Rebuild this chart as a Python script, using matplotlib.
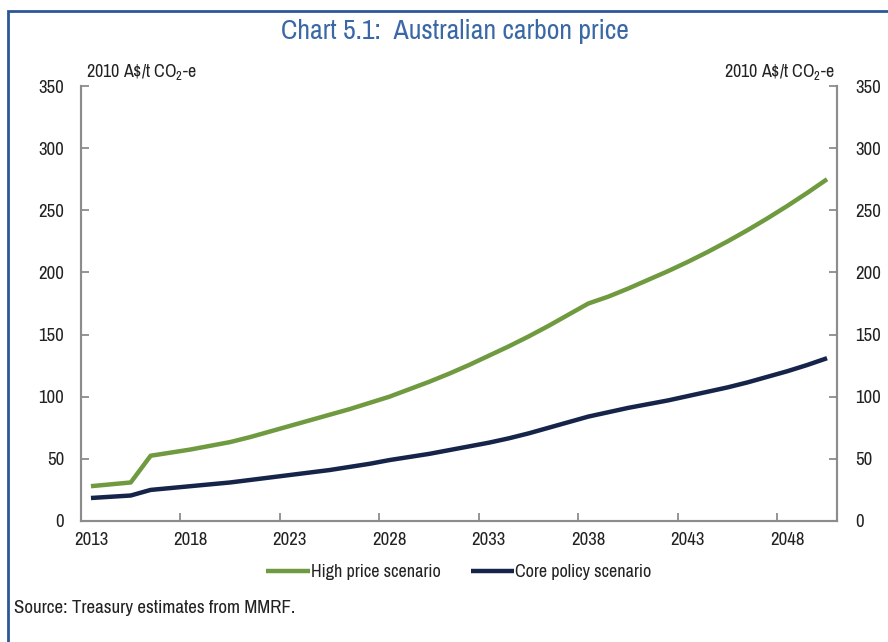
import matplotlib
matplotlib.use("Agg")
import matplotlib.pyplot as plt
from matplotlib import font_manager
from matplotlib.patches import Rectangle

# Data (2010 A$/t CO2-e)
years = list(range(2013, 2051))
high_price = [28, 29.5, 31, 52.5, 55, 57.5, 60.5, 63.5, 67.5, 72,
              76.5, 81, 85.5, 90, 95, 100, 106, 112, 118.5, 125.5,
              133, 140.5, 148.5, 157, 166, 175, 180.5, 187, 194, 201,
              208.5, 216.5, 225, 234, 243.5, 253.5, 264, 275]
core_policy = [18.5, 19.5, 20.5, 25, 26.5, 28, 29.5, 31, 33, 35,
               37, 39, 41, 43.5, 46, 49, 51.5, 54, 57, 60,
               63, 66.5, 70.5, 75, 79.5, 84, 87.5, 91, 94, 97,
               100.5, 104, 107.5, 111.5, 116, 120.5, 125.5, 131]
xtick_years = [2013, 2018, 2023, 2028, 2033, 2038, 2043, 2048]
yticks = [0, 50, 100, 150, 200, 250, 300, 350]

# look for a narrow sans face (the original uses Arial Narrow)
narrow = None
stretch = "normal"
for f in font_manager.fontManager.ttflist:
    if "Narrow" in f.name or "Condensed" in f.name:
        narrow = f.name
        break
if narrow is None:
    for f in font_manager.fontManager.ttflist:
        if f.stretch in ("condensed", "semi-condensed") and "Sans" in f.name:
            narrow, stretch = f.name, f.stretch
            break

FONT = [narrow] if narrow else []
FONT += ["Liberation Sans", "DejaVu Sans"]
plt.rcParams["font.family"] = FONT
plt.rcParams["font.stretch"] = stretch
plt.rcParams["mathtext.fontset"] = "custom"
plt.rcParams["mathtext.rm"] = FONT[0]
plt.rcParams["mathtext.it"] = FONT[0]
SZ = 13.5 if narrow else 12

GREEN = "#6f9a3f"
NAVY = "#16244a"
GREY = "#8c8c8c"
TXT = "#222222"

fig = plt.figure(figsize=(8.88, 6.42), dpi=100)
ax = fig.add_axes([81 / 888, 0.1885, 756 / 888, 0.6775])

ax.plot(years, high_price, color=GREEN, lw=3.2, label="High price scenario", solid_capstyle="butt")
ax.plot(years, core_policy, color=NAVY, lw=3.2, label="Core policy scenario", solid_capstyle="butt")

# category style axis: half a year of padding each side
ax.set_xlim(2012.5, 2050.5)
ax.set_ylim(0, 350)
ax.set_yticks(yticks)
ax.set_xticks(xtick_years)
ax.set_xticks([y - 0.5 for y in xtick_years[1:]], minor=True)
ax.tick_params(axis="x", which="major", length=0, pad=8, labelsize=SZ, labelcolor=TXT)
ax.tick_params(axis="x", which="minor", direction="in", length=6, color=GREY, width=1.3)
ax.tick_params(axis="y", direction="in", length=6, color=GREY, width=1.3,
               labelsize=SZ, labelcolor=TXT, pad=12)

ax2 = ax.twinx()
ax2.set_ylim(0, 350)
ax2.set_yticks(yticks)
ax2.tick_params(axis="y", direction="in", length=6, color=GREY, width=1.3,
                labelsize=SZ, labelcolor=TXT, pad=13)

for a in (ax, ax2):
    a.spines["top"].set_visible(False)
    for s in ("left", "right", "bottom"):
        a.spines[s].set_color(GREY)
        a.spines[s].set_linewidth(1.5)

unit = r"2010 A\$/t CO$_2$-e"
fig.text(0.097, 0.888, unit, fontsize=SZ - 0.5, color=TXT, ha="left", va="center")
fig.text(0.94, 0.888, unit, fontsize=SZ - 0.5, color=TXT, ha="right", va="center")

fig.text(0.512, 0.951, "Chart 5.1:  Australian carbon price", fontsize=SZ + 6.5,
         color="#3a68a6", ha="center", va="center")

leg = ax.legend(loc="upper center", bbox_to_anchor=(0.5, -0.062), ncol=2, frameon=False,
                fontsize=SZ - 0.5, handlelength=2.4, handletextpad=0.05, columnspacing=1.7)
for t in leg.get_texts():
    t.set_color(TXT)

fig.text(0.016, 0.053, "Source: Treasury estimates from MMRF.", fontsize=SZ + 0.2,
         color=TXT, ha="left", va="center")

# blue frame around the chart (runs off the right and bottom edges)
fig.patches.append(Rectangle((8 / 888, -0.05), 1.1, 1 - 11 / 642 + 0.05,
                             transform=fig.transFigure, fill=False,
                             edgecolor="#2b5797", lw=2))

fig.savefig("out.png", dpi=100)
